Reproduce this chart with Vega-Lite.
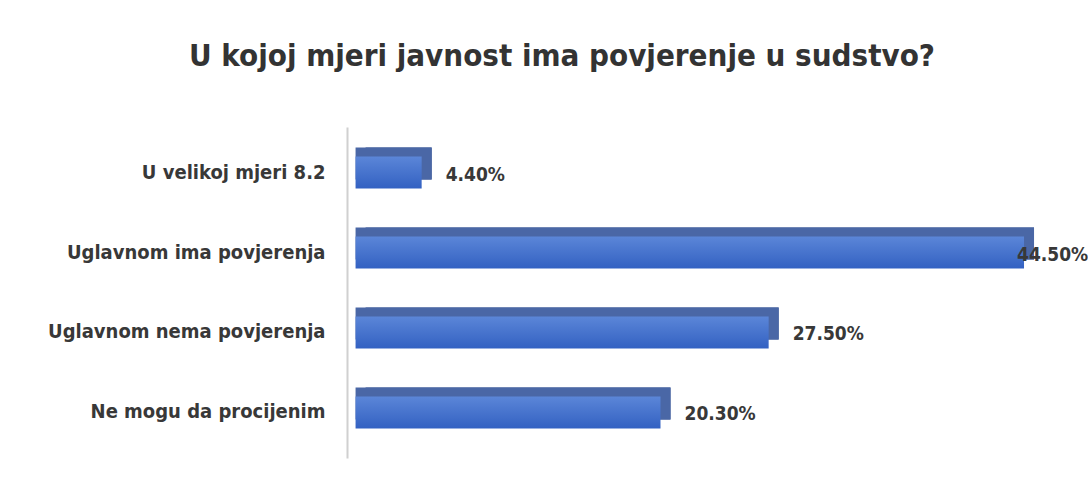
{
  "$schema": "https://vega.github.io/schema/vega-lite/v6.json",
  "autosize": {"type": "none"},
  "width": 700,
  "height": 331,
  "padding": {"left": 347, "top": 127, "right": 41, "bottom": 26},
  "background": "white",
  "title": {
    "text": "U kojoj mjeri javnost ima povjerenje u sudstvo?",
    "font": "DejaVu Sans Condensed",
    "fontSize": 31,
    "fontWeight": "bold",
    "color": "#333333",
    "anchor": "middle",
    "dx": -135,
    "offset": 54
  },
  "config": {"view": {"stroke": null}},
  "data": {
    "values": [
      {"kategorija": "U velikoj mjeri 8.2", "procenat": 4.4, "oznaka": "4.40%"},
      {"kategorija": "Uglavnom ima povjerenja", "procenat": 44.5, "oznaka": "44.50%"},
      {"kategorija": "Uglavnom nema povjerenja", "procenat": 27.5, "oznaka": "27.50%"},
      {"kategorija": "Ne mogu da procijenim", "procenat": 20.3, "oznaka": "20.30%"}
    ]
  },
  "encoding": {
    "y": {
      "field": "kategorija",
      "type": "nominal",
      "sort": null,
      "scale": {"paddingInner": 0.6, "paddingOuter": 0.369},
      "axis": {
        "title": null,
        "ticks": false,
        "grid": false,
        "domain": true,
        "domainColor": "#d0d0d0",
        "domainWidth": 2,
        "labelPadding": 22,
        "labelFont": "DejaVu Sans Condensed",
        "labelFontSize": 20,
        "labelFontWeight": "bold",
        "labelColor": "#383838",
        "labelLimit": 400
      }
    },
    "x": {
      "field": "procenat",
      "type": "quantitative",
      "scale": {"domain": [-0.57, 46.03], "nice": false, "zero": false},
      "axis": null
    }
  },
  "layer": [
    {
      "mark": {"type": "bar", "color": "#2b4b8c", "xOffset": 10, "x2Offset": 10, "yOffset": -9, "y2Offset": -9},
      "encoding": {"x2": {"datum": 0}}
    },
    {
      "mark": {"type": "bar", "color": "#4a67a6", "xOffset": 10, "x2Offset": 0, "yOffset": -9, "y2Offset": -9},
      "encoding": {"x2": {"datum": 0}}
    },
    {
      "mark": {
        "type": "bar",
        "color": {
          "gradient": "linear",
          "x1": 0, "y1": 0, "x2": 0, "y2": 1,
          "stops": [
            {"offset": 0, "color": "#5b86d8"},
            {"offset": 1, "color": "#3361c2"}
          ]
        }
      },
      "encoding": {"x2": {"datum": 0}}
    },
    {
      "transform": [{"filter": "datum.procenat < 40"}],
      "mark": {
        "type": "text",
        "align": "left",
        "baseline": "middle",
        "dx": 24,
        "dy": 2,
        "font": "DejaVu Sans Condensed",
        "fontSize": 19,
        "fontWeight": "bold",
        "color": "#383838"
      },
      "encoding": {"text": {"field": "oznaka"}}
    },
    {
      "transform": [{"filter": "datum.procenat >= 40"}],
      "mark": {
        "type": "text",
        "align": "left",
        "baseline": "middle",
        "dx": -7,
        "dy": 2,
        "font": "DejaVu Sans Condensed",
        "fontSize": 19,
        "fontWeight": "bold",
        "color": "#383838"
      },
      "encoding": {"text": {"field": "oznaka"}}
    }
  ]
}
